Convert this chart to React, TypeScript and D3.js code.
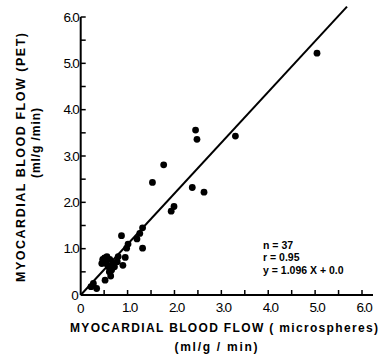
import React from "react";
import * as d3 from "d3";

const microX = [5.04, 2.45, 2.48, 3.30, 1.77, 1.53, 2.38, 2.63, 1.99, 1.93, 0.87, 1.32, 1.26, 1.20, 1.32, 1.01, 0.98, 0.95, 0.90, 0.47, 0.45, 0.54, 0.62, 0.59, 0.72, 0.61, 0.64, 0.52, 0.78, 0.27, 0.34, 0.22, 0.70, 0.56, 0.51, 0.80, 0.66];
const petY = [5.22, 3.56, 3.36, 3.43, 2.81, 2.43, 2.32, 2.22, 1.91, 1.81, 1.28, 1.45, 1.33, 1.21, 1.01, 1.10, 1.01, 0.81, 0.64, 0.77, 0.68, 0.68, 0.77, 0.61, 0.61, 0.50, 0.41, 0.32, 0.72, 0.25, 0.14, 0.18, 0.68, 0.83, 0.80, 0.83, 0.54];
const tickValues = [0, 1, 2, 3, 4, 5, 6];
const tickLabels = ["0", "1.0", "2.0", "3.0", "4.0", "5.0", "6.0"];
const minorTicks = [0.5, 1, 1.5, 2, 2.5, 3, 3.5, 4, 4.5, 5, 5.5, 6];
const slope = 1.096;
const intercept = 0.0;
const lineXs = [0, 5.68];
const statsLines = ["n = 37", "r = 0.95", "y = 1.096 X  + 0.0"];

export default function App() {
  const W = 379, H = 354;
  const x = d3.scaleLinear().domain([0, 6]).range([80.7, 362]);
  const y = d3.scaleLinear().domain([0, 6]).range([295, 17]);
  const font = "'Liberation Sans', Arial, sans-serif";
  const line = d3.line<number>().x(d => x(d)).y(d => y(slope * d + intercept));
  return (
    <svg width={W} height={H} style={{ position: "absolute", left: 0, top: 0, background: "#fff" }} fontFamily={font}>
      {/* axes */}
      <line x1={x(0)} x2={373} y1={y(0)} y2={y(0)} stroke="#000" strokeWidth={2} />
      <line x1={x(0)} x2={x(0)} y1={y(0)} y2={y(6)} stroke="#000" strokeWidth={2} />
      {minorTicks.map(t => (
        <g key={"t" + t}>
          <line x1={x(t)} x2={x(t)} y1={y(0)} y2={y(0) - 5} stroke="#000" strokeWidth={1.5} />
          <line x1={x(0)} x2={x(0) + 5} y1={y(t)} y2={y(t)} stroke="#000" strokeWidth={1.5} />
        </g>
      ))}
      {tickValues.map((t, i) => (
        <g key={"l" + t}>
          {t !== 0 && (
            <text x={x(t) + 2} y={307} dy="0.35em" textAnchor="middle" fontSize={13.5} letterSpacing={-1.2}>{tickLabels[i]}</text>
          )}
          {t !== 0 && (
            <text x={x(0) - 2} y={y(t)} dy="0.35em" textAnchor="end" fontSize={13.5} letterSpacing={-1.2}>{tickLabels[i]}</text>
          )}
        </g>
      ))}
      <text x={x(0) - 2} y={y(0)} dy="0.35em" textAnchor="end" fontSize={13.5}>0</text>
      <text x={x(0)} y={308} dy="0.35em" textAnchor="middle" fontSize={13.5}>0</text>
      {/* regression line */}
      <path d={line(lineXs) || ""} fill="none" stroke="#000" strokeWidth={2} />
      {/* points */}
      {microX.map((v, i) => (
        <circle key={i} cx={x(v)} cy={y(petY[i])} r={3.4} fill="#000" />
      ))}
      {/* stats */}
      {statsLines.map((s, i) => (
        <text key={s} x={263} y={245 + i * 12.5} dy="0.35em" fontSize={10.5} fontWeight="bold">{s}</text>
      ))}
      {/* axis titles */}
      <text x={70} y={332} fontSize={12} fontWeight="bold" textLength={308} lengthAdjust="spacing">MYOCARDIAL BLOOD FLOW ( microspheres)</text>
      <text x={216} y={351} fontSize={12} fontWeight="bold" textAnchor="middle" textLength={83} lengthAdjust="spacing">(ml/g / min)</text>
      <text transform="translate(25,157.5) rotate(-90)" fontSize={12.5} fontWeight="bold" textAnchor="middle" textLength={249} lengthAdjust="spacing">MYOCARDIAL BLOOD FLOW (PET)</text>
      <text transform="translate(40,143) rotate(-90)" fontSize={12} fontWeight="bold" textAnchor="middle" textLength={70} lengthAdjust="spacing">(ml/g /min)</text>
    </svg>
  );
}
